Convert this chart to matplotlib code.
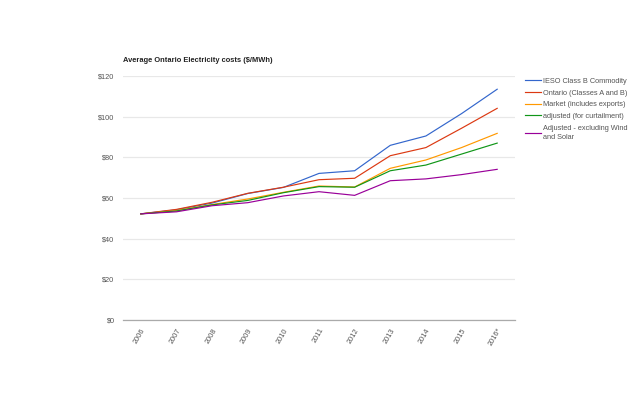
import numpy as np
import matplotlib
matplotlib.use('Agg')
import matplotlib.pyplot as plt

plt.rcParams['font.family'] = ['Liberation Sans', 'DejaVu Sans']

years = ['2006', '2007', '2008', '2009', '2010', '2011', '2012', '2013', '2014', '2015', '2016*']

ieso_class_b = [52.2, 54.2, 57.5, 62.2, 65.2, 72.1, 73.4, 85.9, 90.5, 101.5, 113.5]
ontario_ab = [52.2, 54.4, 57.9, 62.3, 65.3, 69.0, 69.7, 80.8, 84.8, 94.3, 104.1]
market = [52.2, 53.8, 56.8, 59.5, 62.8, 65.9, 65.4, 74.6, 78.7, 84.8, 91.8]
adjusted = [52.2, 53.6, 56.6, 58.8, 62.6, 65.6, 65.3, 73.4, 76.2, 81.6, 87.0]
adjusted_no_ws = [52.2, 53.2, 56.2, 57.7, 61.0, 63.1, 61.3, 68.5, 69.4, 71.5, 74.1]

names = ['IESO Class B Commodity', 'Ontario (Classes A and B)', 'Market (includes exports)',
         'adjusted (for curtailment)', 'Adjusted - excluding Wind\nand Solar']
colors = ['#3366cc', '#dc3912', '#ff9900', '#109618', '#990099']
series = [ieso_class_b, ontario_ab, market, adjusted, adjusted_no_ws]

fig = plt.figure(figsize=(6.4, 3.96), dpi=100)
ax = fig.add_axes([123 / 640, 1 - 320 / 396, 392 / 640, 244 / 396])

x = np.arange(len(years))
for vals, c, n in zip(series, colors, names):
    ax.plot(x, vals, color=c, lw=0.85, label=n)

ax.set_xlim(-0.5, len(years) - 0.5)
ax.set_ylim(0, 120)
ax.set_yticks(np.arange(0, 121, 20))
ax.set_yticklabels(['$%d' % v for v in range(0, 121, 20)])
ax.set_xticks(x)
ax.set_xticklabels(years, rotation=60, ha='right', va='top', rotation_mode='anchor')

ax.grid(axis='y', color='#e8e8e8', lw=0.9)
ax.set_axisbelow(True)
for s in ['top', 'right', 'left']:
    ax.spines[s].set_visible(False)
ax.spines['bottom'].set_color('#aaaaaa')
ax.spines['bottom'].set_linewidth(0.9)
ax.tick_params(length=0, labelsize=5.3, colors='#555555')
ax.tick_params(axis='x', pad=5)
ax.tick_params(axis='y', pad=6)

fig.text(123 / 640, 1 - 60 / 396, 'Average Ontario Electricity costs ($/MWh)',
         fontsize=5.4, fontweight='bold', color='#222222', va='center')

leg = ax.legend(loc='upper left', bbox_to_anchor=(1.025, 0.993), frameon=False,
                fontsize=5.3, handlelength=2.2, handletextpad=0.3, labelspacing=0.62,
                borderpad=0, borderaxespad=0)
for t in leg.get_texts():
    t.set_color('#555555')
    t.set_linespacing(1.55)

fig.savefig('out.png', dpi=100)
